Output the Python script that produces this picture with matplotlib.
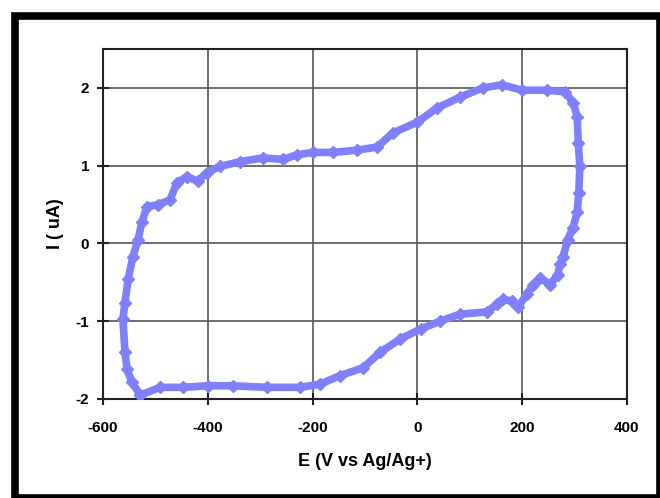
import numpy as np
import matplotlib.pyplot as plt
from matplotlib.patches import Rectangle

plt.rcParams['font.family'] = ['Liberation Sans', 'DejaVu Sans']
plt.rcParams['axes.unicode_minus'] = False

# potential (mV) and current (uA), one full cycle
e_fwd = [-529, -545, -554, -558, -562, -558, -552, -543, -533, -526, -516, -495,
         -472, -459, -440, -419, -402, -377, -339, -295, -256, -230, -199, -161,
         -115, -77, -47, 0, 37, 81, 125, 161, 200, 247, 282, 297, 305, 307, 310,
         308, 305, 297, 287]
i_fwd = [-1.95, -1.78, -1.62, -1.4, -0.97, -0.76, -0.46, -0.17, 0.05, 0.27, 0.47, 0.5,
         0.56, 0.78, 0.86, 0.8, 0.91, 0.99, 1.05, 1.1, 1.08, 1.14, 1.17, 1.17,
         1.2, 1.24, 1.42, 1.56, 1.74, 1.88, 2.0, 2.04, 1.97, 1.97, 1.95, 1.81, 1.63, 1.29, 0.99,
         0.65, 0.4, 0.2, 0.05]
e_rev = [278, 272, 268, 253, 234, 221, 209, 192, 180, 163, 152, 133, 81, 43, 6,
         -33, -71, -104, -148, -186, -224, -287, -352, -400, -447, -491, -529]
i_rev = [-0.17, -0.27, -0.4, -0.53, -0.44, -0.53, -0.65, -0.82, -0.74, -0.72, -0.78,
         -0.88, -0.91, -1.0, -1.1, -1.23, -1.4, -1.6, -1.7, -1.81, -1.85, -1.85,
         -1.83, -1.83, -1.85, -1.85, -1.95]

e = e_fwd + e_rev
cur = i_fwd + i_rev

fig = plt.figure(figsize=(6.6, 4.98), dpi=100, facecolor='white')
ax = fig.add_axes([103/660, 1 - 399/498, (627 - 103)/660, (399 - 49)/498])

ax.plot(e, cur, color='#8080ff', lw=5.5, solid_joinstyle='round', zorder=3)
ax.plot(e, cur, ls='none', marker='D', ms=6.5, color='#8080ff', zorder=3)

ax.set_xlim(-600, 400)
ax.set_ylim(-2, 2.5)
ax.set_xticks([-600, -400, -200, 0, 200, 400])
ax.set_yticks([-2, -1, 0, 1, 2])
ax.grid(True, color='#555555', lw=1.2)
ax.set_axisbelow(True)
for s in ax.spines.values():
    s.set_color('#222222')
    s.set_linewidth(1.5)
ax.tick_params(direction='inout', length=8, width=1.5, color='#222222',
               labelsize=11)
ax.tick_params(axis='x', pad=12)
ax.tick_params(axis='y', pad=6)
for lbl in ax.get_xticklabels() + ax.get_yticklabels():
    lbl.set_fontweight('bold')

ax.set_xlabel('E (V vs Ag/Ag+)', fontsize=13, fontweight='bold', labelpad=13)
ax.set_ylabel('I ( uA)', fontsize=13, fontweight='bold', labelpad=8)

# black frame round the picture
fig.add_artist(Rectangle((14.5/660, 0.0), (659.5 - 14.5)/660, (482.5 - 0.0)/498,
                         transform=fig.transFigure, fill=False, ec='black', lw=5.5))

fig.savefig('out.png', dpi=100, facecolor='white')
